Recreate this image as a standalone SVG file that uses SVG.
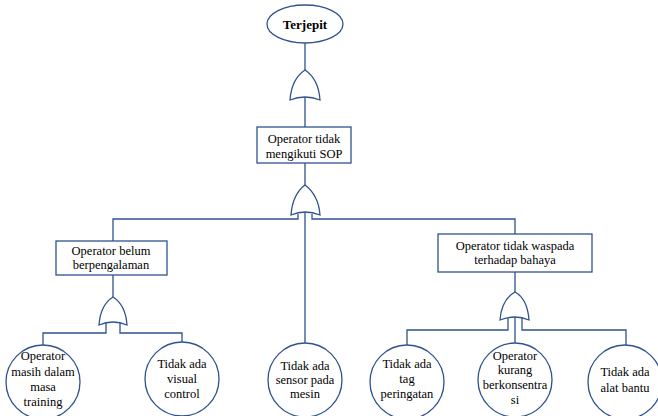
<svg xmlns="http://www.w3.org/2000/svg" width="658" height="416" viewBox="0 0 658 416" font-family="'Liberation Serif', 'Times New Roman', 'DejaVu Serif', serif">
<style>
.s{fill:#fff;stroke:#2F528F;stroke-width:1.3}
.l{fill:none;stroke:#2F528F;stroke-width:1.3}
text{font-size:12.5px;fill:#000;text-anchor:middle}
.b{font-weight:bold;font-size:13px}
</style>
<rect width="658" height="416" fill="#fff"/>
<g id="connectors">
<path class="l" d="M305,43V70 M305,97V127 M305,163V185"/>
<path class="l" d="M298,214V219H113V241 M312,214V219H515V234 M305,212V343"/>
<path class="l" d="M113,275V297 M106,323V333H43V346 M120,323V333H182V342"/>
<path class="l" d="M515,272V292 M508,318V330H407V345 M515,316V343 M522,318V330H626V345"/>
</g>
<g id="gate1"><path class="s" d="M290,100 C291,86 296,76 305,70 C314,76 319,86 320,100 Q305,94 290,100 Z"/></g>
<g id="gate2"><path class="s" d="M291,215 C292,201 297,191 305,185 C313,191 319,201 320,215 Q305,209 291,215 Z"/></g>
<g id="gate3"><path class="s" d="M99,325 C100,311 105,302 113,297 C121,302 126,311 127,325 Q113,319 99,325 Z"/></g>
<g id="gate4"><path class="s" d="M500,320 C501,306 506,297 515,292 C524,297 528,306 529,320 Q515,314 500,320 Z"/></g>
<g id="top"><ellipse class="s" cx="305" cy="24" rx="38" ry="19"/><text class="b" x="305" y="29">Terjepit</text></g>
<g id="sop"><rect class="s" x="257" y="127" width="94" height="36"/><text x="304" y="143">Operator tidak</text><text x="304" y="158">mengikuti SOP</text></g>
<g id="belum"><rect class="s" x="56" y="241" width="111" height="34"/><text x="111" y="255">Operator belum</text><text x="111" y="269">berpengalaman</text></g>
<g id="waspada"><rect class="s" x="438" y="234" width="154" height="38"/><text x="515" y="250">Operator tidak waspada</text><text x="515" y="264">terhadap bahaya</text></g>
<g id="training"><circle class="s" cx="43" cy="382" r="37"/><text x="43" y="360">Operator</text><text x="43" y="376">masih dalam</text><text x="43" y="391">masa</text><text x="43" y="406">training</text></g>
<g id="visual"><circle class="s" cx="182" cy="379" r="37"/><text x="182" y="368">Tidak ada</text><text x="182" y="383">visual</text><text x="182" y="398">control</text></g>
<g id="sensor"><circle class="s" cx="305" cy="380" r="37"/><text x="305" y="370">Tidak ada</text><text x="305" y="384">sensor pada</text><text x="305" y="398">mesin</text></g>
<g id="tag"><circle class="s" cx="407" cy="382" r="37"/><text x="407" y="368">Tidak ada</text><text x="407" y="383">tag</text><text x="407" y="398">peringatan</text></g>
<g id="konsentrasi"><circle class="s" cx="515" cy="380" r="37"/><text x="515" y="360">Operator</text><text x="515" y="374">kurang</text><text x="515" y="389">berkonsentra</text><text x="515" y="404">si</text></g>
<g id="alat"><circle class="s" cx="625" cy="382" r="37"/><text x="625" y="376">Tidak ada</text><text x="625" y="392">alat bantu</text></g>
</svg>
